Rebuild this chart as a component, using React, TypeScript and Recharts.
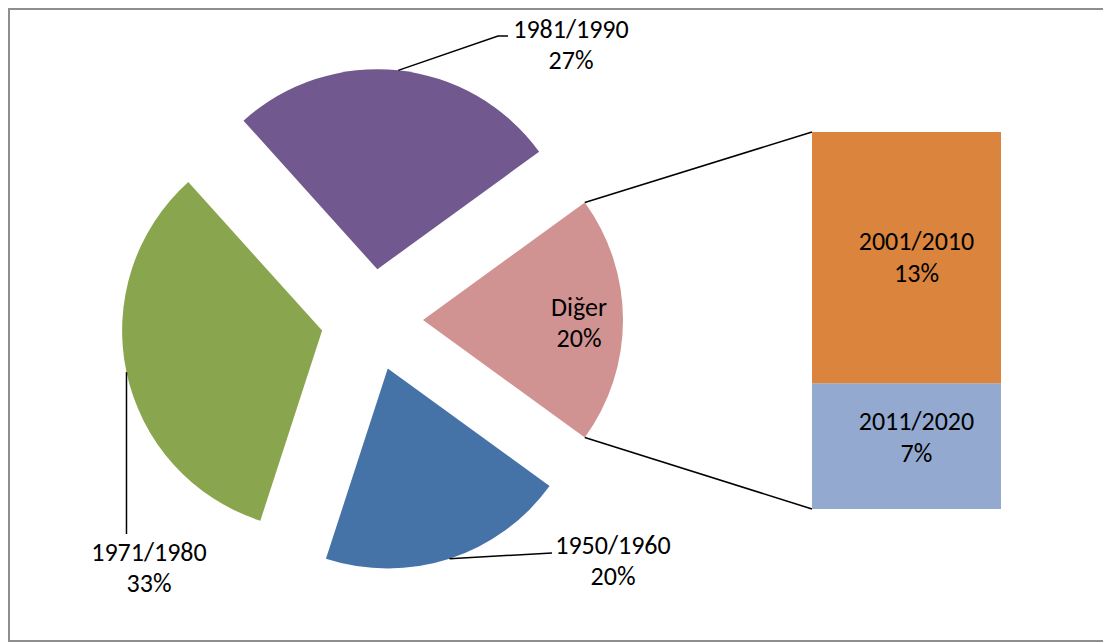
import React from 'react';
import { PieChart, Pie, Cell, BarChart, Bar, XAxis, YAxis, LabelList } from 'recharts';

// ---- data (counts of items per period) ----
const pieCategories = ['Diğer', '1950/1960', '1971/1980', '1981/1990'];
const periodCounts = [3, 5, 4]; // 1950/1960, 1971/1980, 1981/1990
const barCategories = ['2001/2010', '2011/2020'];
const barCounts = [2, 1];

const sum = (a: number[]) => a.reduce((s, v) => s + v, 0);
const otherTotal = sum(barCounts);
const pieValues = [otherTotal, ...periodCounts];
const grandTotal = sum(pieValues);
const pieData = pieCategories.map((name, i) => ({ name, value: pieValues[i] }));
const barData = [{ name: 'Diğer', s0: barCounts[0], s1: barCounts[1] }];

// ---- style / layout ----
const pieColors = ['#D19392', '#4572A7', '#89A54E', '#71588F'];
const barColors = ['#DB843D', '#93A9CF'];
const FONT = 'Carlito, Calibri, Lato, sans-serif';
const FS = 26;
const LINE = 31;
const W = 1111;
const H = 643;
const PIE_CX = 372;
const PIE_CY = 320;
const R = 200;
const EXPLODE = 51;
const START = 36;
const SWEEP = -360;
const BAR_LEFT = 812;
const BAR_TOP = 132;
const BAR_W = 189;
const BAR_H = 377;

const labelLayout: Record<string, { x: number; y: number; path?: [number, number][]; vertical?: number }> = {
  'Diğer': { x: 579, y: 316 },
  '1981/1990': { x: 571, y: 38, path: [[498, 36], [508, 36]] },
  '1950/1960': { x: 613, y: 554, path: [[552, 553]] },
  '1971/1980': { x: 149, y: 561, vertical: 534 },
};

const pct = (v: number) => Math.round((v / grandTotal) * 100);

function explodeOffset(i: number) {
  const before = sum(pieValues.slice(0, i));
  const midFrac = (before + pieValues[i] / 2) / grandTotal;
  const ang = ((START + SWEEP * midFrac) * Math.PI) / 180;
  return { dx: EXPLODE * Math.cos(ang), dy: -EXPLODE * Math.sin(ang) };
}

const polar = (cx: number, cy: number, r: number, a: number) => ({
  x: cx + r * Math.cos((-a * Math.PI) / 180),
  y: cy + r * Math.sin((-a * Math.PI) / 180),
});

const renderPieLabel = (target: number) => (props: any) => {
  if (props.index !== target) return null;
  const cx = Number(props.cx);
  const cy = Number(props.cy);
  const r = Number(props.outerRadius);
  const name = pieCategories[target];
  const lay = labelLayout[name];
  const mid = polar(cx, cy, r, props.midAngle);
  const parts: React.ReactNode[] = [];
  if (lay.path) {
    const pts = [[mid.x, mid.y], ...lay.path].map((p) => p.join(',')).join(' ');
    parts.push(<polyline key="l" points={pts} fill="none" stroke="#000" strokeWidth={1.5} />);
  }
  if (lay.vertical !== undefined) {
    parts.push(
      <line key="v" x1={mid.x} y1={mid.y} x2={mid.x} y2={lay.vertical} stroke="#000" strokeWidth={1.5} />
    );
  }
  if (target === 0) {
    const a = polar(cx, cy, r, props.startAngle);
    const b = polar(cx, cy, r, props.endAngle);
    parts.push(
      <line key="c1" x1={a.x} y1={a.y} x2={BAR_LEFT} y2={BAR_TOP} stroke="#000" strokeWidth={1.5} />,
      <line key="c2" x1={b.x} y1={b.y} x2={BAR_LEFT} y2={BAR_TOP + BAR_H} stroke="#000" strokeWidth={1.5} />
    );
  }
  parts.push(
    <text key="t" x={lay.x} y={lay.y} textAnchor="middle" fontSize={FS} fontFamily={FONT} fill="#000">
      <tspan x={lay.x}>{name}</tspan>
      <tspan x={lay.x} dy={LINE}>{pct(pieValues[target])}%</tspan>
    </text>
  );
  return <g>{parts}</g>;
};

const barLabel = (k: number, shift: number) => (p: any) => {
  const x = Number(p.x) + Number(p.width) / 2 + 10;
  const y = Number(p.y) + Number(p.height) / 2 + shift - 8;
  return (
    <text x={x} y={y} textAnchor="middle" fontSize={FS} fontFamily={FONT} fill="#000">
      <tspan x={x}>{barCategories[k]}</tspan>
      <tspan x={x} dy={32}>{pct(barCounts[k])}%</tspan>
    </text>
  );
};

export default function App() {
  return (
    <div style={{ position: 'relative', width: 1095, height: 635 }}>
      <div style={{ position: 'absolute', left: -8, top: -8, width: W, height: H }}>
        <PieChart width={W} height={H} margin={{ top: 0, right: 0, bottom: 0, left: 0 }}>
          {pieData.map((_, i) => {
            const off = explodeOffset(i);
            return (
              <Pie
                key={i}
                data={pieData}
                dataKey="value"
                nameKey="name"
                cx={PIE_CX + off.dx}
                cy={PIE_CY + off.dy}
                innerRadius={0}
                outerRadius={R}
                startAngle={START}
                endAngle={START + SWEEP}
                stroke="none"
                labelLine={false}
                label={renderPieLabel(i)}
                isAnimationActive={false}
              >
                {pieData.map((d, j) => (
                  <Cell key={d.name} fill={j === i ? pieColors[j] : 'none'} stroke="none" />
                ))}
              </Pie>
            );
          })}
        </PieChart>
      </div>
      <div style={{ position: 'absolute', left: BAR_LEFT - 8, top: BAR_TOP - 8, width: BAR_W, height: BAR_H }}>
        <BarChart
          width={BAR_W}
          height={BAR_H}
          data={barData}
          margin={{ top: 0, right: 0, bottom: 0, left: 0 }}
          barCategoryGap={0}
        >
          <XAxis dataKey="name" hide />
          <YAxis hide domain={[0, otherTotal]} allowDataOverflow />
          <Bar dataKey="s1" stackId="a" fill={barColors[1]} isAnimationActive={false}>
            <LabelList dataKey="s1" content={barLabel(1, -8)} />
          </Bar>
          <Bar dataKey="s0" stackId="a" fill={barColors[0]} isAnimationActive={false}>
            <LabelList dataKey="s0" content={barLabel(0, 0)} />
          </Bar>
        </BarChart>
      </div>
      <div
        style={{
          position: 'absolute',
          left: 0,
          top: 0,
          width: 1095,
          height: 634,
          borderTop: '2px solid #8e8e8e',
          borderLeft: '2px solid #8e8e8e',
          borderBottom: '2px solid #8e8e8e',
          boxSizing: 'border-box',
          pointerEvents: 'none',
        }}
      />
    </div>
  );
}
